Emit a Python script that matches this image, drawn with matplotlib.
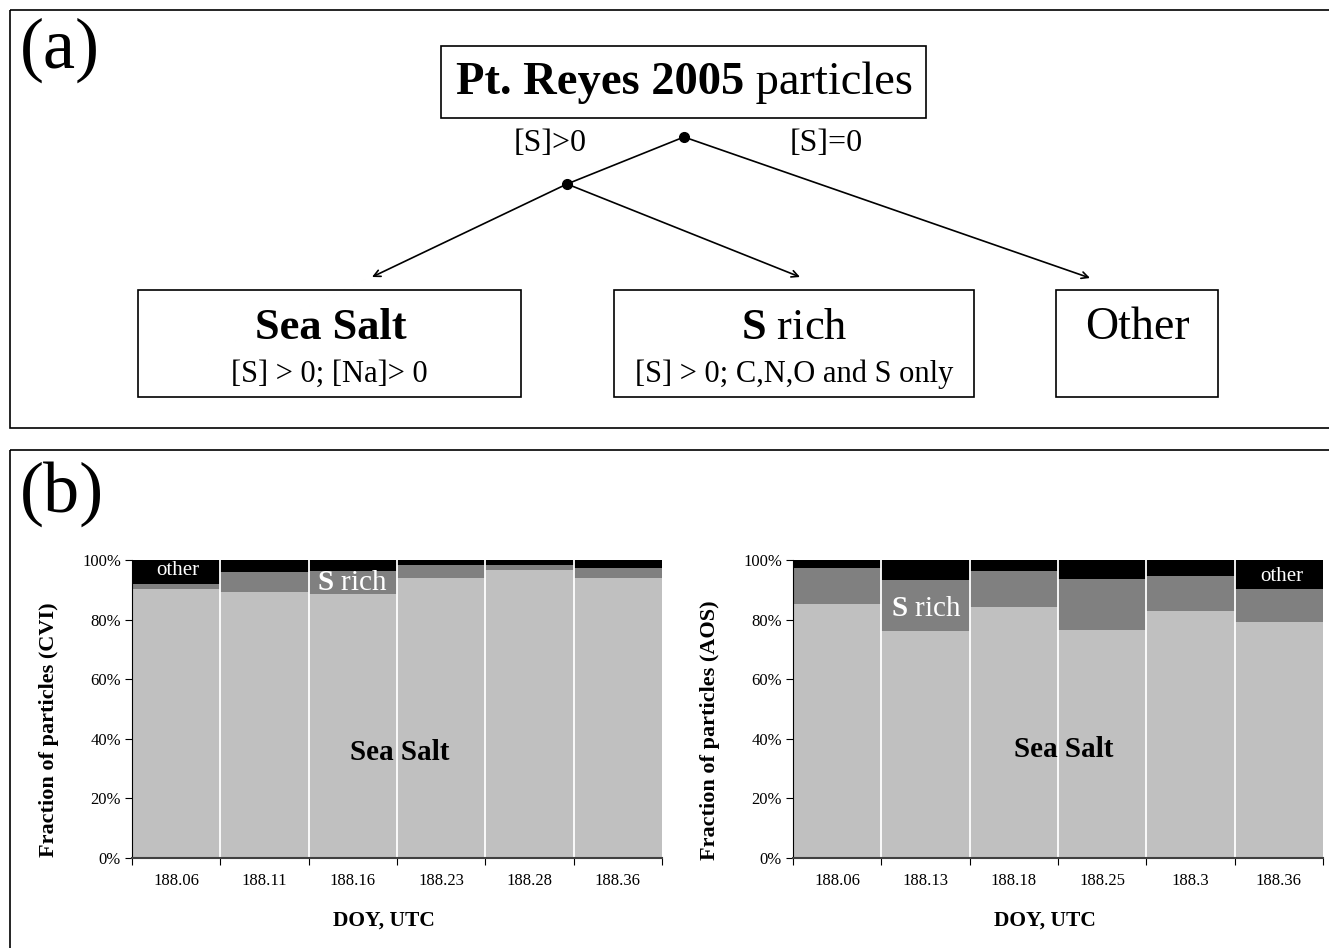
import numpy as np
import matplotlib.pyplot as plt
from matplotlib.patches import Rectangle

plt.rcParams['font.family'] = ['Liberation Serif', 'DejaVu Serif']
plt.rcParams['mathtext.fontset'] = 'custom'
plt.rcParams['mathtext.rm'] = 'Liberation Serif'
plt.rcParams['mathtext.bf'] = 'Liberation Serif:bold'

# particle class fractions (%) per sampling time
cvi_times = ['188.06', '188.11', '188.16', '188.23', '188.28', '188.36']
cvi_seasalt = [90.3, 89.3, 88.6, 94.0, 96.6, 94.0]
cvi_srich = [1.7, 6.7, 7.7, 4.4, 1.7, 3.3]
cvi_other = [8.0, 4.0, 3.7, 1.6, 1.7, 2.7]

aos_times = ['188.06', '188.13', '188.18', '188.25', '188.3', '188.36']
aos_seasalt = [85.3, 76.2, 84.2, 76.5, 82.9, 79.2]
aos_srich = [12.0, 17.1, 12.1, 17.1, 11.7, 11.1]
aos_other = [2.7, 6.7, 3.7, 6.4, 5.4, 9.7]

W, H = 1329, 948
fig = plt.figure(figsize=(W / 100, H / 100), dpi=100)

# full-figure axes in pixel units for the flow diagram and frames
bg = fig.add_axes([0, 0, 1, 1])
bg.set_xlim(0, W)
bg.set_ylim(H, 0)
bg.axis('off')

bg.add_patch(Rectangle((10, 10), 1330, 418, fill=False, lw=1.2, ec='black'))
bg.add_patch(Rectangle((10, 450), 1330, 510, fill=False, lw=1.2, ec='black'))
bg.text(20, 50, '(a)', fontsize=52, va='center', ha='left')
bg.text(20, 494, '(b)', fontsize=52, va='center', ha='left')

def box(x0, y0, x1, y1):
    bg.add_patch(Rectangle((x0, y0), x1 - x0, y1 - y0, fill=False, lw=1.2, ec='black'))

box(441, 46, 926, 118)
t = bg.text(456, 83, 'Pt. Reyes 2005', fontsize=33.5, fontweight='bold', ha='left', va='center')
bg.annotate(' particles', xy=(1, 0.5), xycoords=t, fontsize=33.5, ha='left', va='center')
bg.text(550, 143, '[S]>0', fontsize=23, ha='center', va='center')
bg.text(826, 143, '[S]=0', fontsize=23, ha='center', va='center')

box(138, 290, 521, 397)
bg.text(331, 328, 'Sea Salt', fontsize=32, fontweight='bold', ha='center', va='center')
bg.text(329, 374, '[S] > 0; [Na]> 0', fontsize=22, ha='center', va='center')
box(614, 290, 974, 397)
bg.text(794, 328, r'$\mathbf{S}$ rich', fontsize=32, ha='center', va='center')
bg.text(794, 374, '[S] > 0; C,N,O and S only', fontsize=22, ha='center', va='center')
box(1056, 290, 1218, 397)
bg.text(1137, 328, 'Other', fontsize=33, ha='center', va='center')

# branches
top, mid = (684, 137), (567, 184)
bg.plot([top[0], mid[0]], [top[1], mid[1]], color='black', lw=1.2)
arrow = dict(arrowstyle='->', color='black', lw=1.2, mutation_scale=12, shrinkA=0, shrinkB=0)
bg.annotate('', xy=(1090, 278), xytext=top, arrowprops=arrow)
bg.annotate('', xy=(372, 277), xytext=mid, arrowprops=arrow)
bg.annotate('', xy=(800, 277), xytext=mid, arrowprops=arrow)
bg.plot([top[0], mid[0]], [top[1], mid[1]], 'o', color='black', ms=7)

def stacked(rect, times, seasalt, srich, other, ylabel):
    ax = fig.add_axes(rect)
    x = np.arange(len(times))
    ss = np.array(seasalt)
    sr = np.array(srich)
    ot = np.array(other)
    ax.bar(x, ss, width=1, color='#c0c0c0', lw=0)
    ax.bar(x, sr, width=1, bottom=ss, color='#808080', lw=0)
    ax.bar(x, ot, width=1, bottom=ss + sr, color='black', lw=0)
    # white separators between bars
    ax.vlines(x[1:] - 0.5, 0, 100, color='white', lw=1.3)
    ax.set_xlim(-0.5, len(times) - 0.5)
    ax.set_ylim(0, 100)
    ax.set_yticks(np.arange(0, 101, 20))
    ax.set_yticklabels(['%d%%' % v for v in range(0, 101, 20)], fontsize=12)
    ax.set_xticks(np.arange(len(times) + 1) - 0.5)
    ax.set_xticklabels([])
    ax.set_xticks(x, minor=True)
    ax.set_xticklabels(times, minor=True, fontsize=12)
    ax.tick_params(axis='x', which='minor', length=0, pad=11)
    ax.tick_params(axis='x', which='major', length=5, direction='out')
    ax.tick_params(axis='y', length=5, direction='out', pad=3)
    ax.spines['top'].set_visible(False)
    ax.spines['right'].set_visible(False)
    ax.spines['bottom'].set_color('#404040')
    ax.spines['bottom'].set_linewidth(1.5)
    ax.set_xlabel('DOY, UTC', fontsize=15.5, fontweight='bold')
    ax.set_ylabel(ylabel, fontsize=16, fontweight='bold')
    ax.xaxis.set_label_coords(0.475, -0.178)
    ax.yaxis.set_label_coords(-0.138, 0.43)
    return ax

axl = stacked([132 / W, 1 - 858 / H, 530 / W, 298 / H], cvi_times,
              cvi_seasalt, cvi_srich, cvi_other, 'Fraction of particles (CVI)')
axl.text(0.02, 96.5, 'other', color='white', fontsize=15, ha='center', va='center')
axl.text(1.99, 92.3, r'$\mathbf{S}$ rich', color='white', fontsize=21, ha='center', va='center')
axl.text(2.53, 35.5, 'Sea Salt', fontsize=21, fontweight='bold', ha='center', va='center')

axr = stacked([793 / W, 1 - 858 / H, 530 / W, 298 / H], aos_times,
              aos_seasalt, aos_srich, aos_other, 'Fraction of particles (AOS)')
axr.text(5.03, 94.5, 'other', color='white', fontsize=15, ha='center', va='center')
axr.text(1.01, 83.5, r'$\mathbf{S}$ rich', color='white', fontsize=21, ha='center', va='center')
axr.text(2.56, 36.5, 'Sea Salt', fontsize=21, fontweight='bold', ha='center', va='center')

fig.savefig('out.png', dpi=100)
